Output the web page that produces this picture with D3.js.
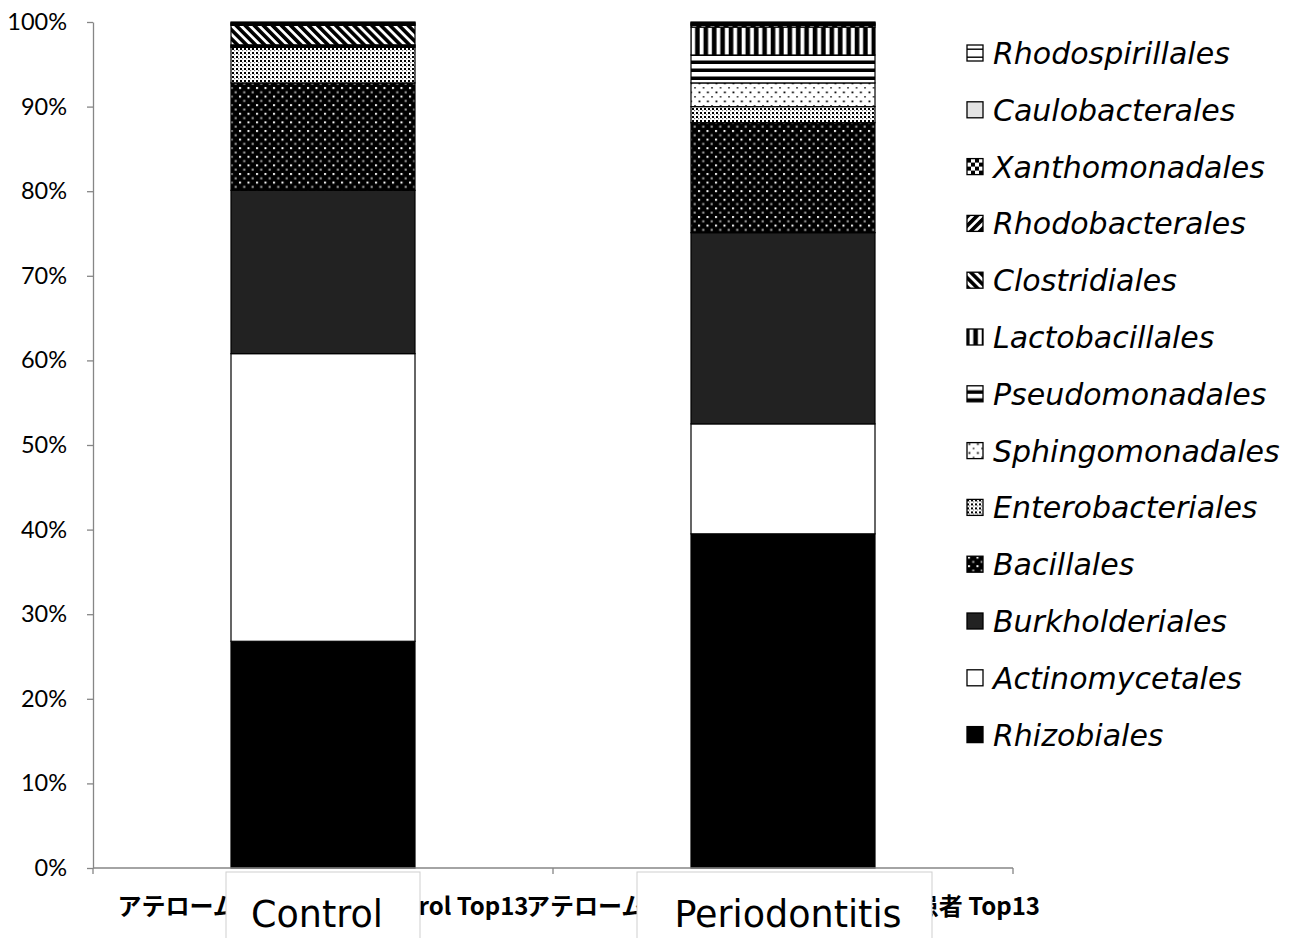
<!DOCTYPE html>
<html>
<head>
<meta charset="utf-8">
<script src="https://cdn.jsdelivr.net/npm/d3@7"></script>
<style>
  html, body { margin: 0; padding: 0; background: #fff; }
  svg { display: block; }
</style>
</head>
<body>
<svg id="chart" width="1290" height="938"></svg>
<script>
// ---- data -------------------------------------------------------------
const groupLabels = [
  "アテローム動脈硬化巣 Control Top13",
  "アテローム動脈硬化巣 歯周炎を伴う患者 Top13"
];
const groupCaptions = ["Control", "Periodontitis"];

// stacking order, bottom to top
const orders = [
  "Rhizobiales", "Actinomycetales", "Burkholderiales", "Bacillales",
  "Enterobacteriales", "Sphingomonadales", "Pseudomonadales", "Lactobacillales",
  "Clostridiales", "Rhodobacterales", "Xanthomonadales", "Caulobacterales",
  "Rhodospirillales"
];

// relative abundance (%) per order
const controlValues       = [26.8, 34.0, 19.3, 12.7, 4.2, 0.1, 0.1, 0.1, 2.3, 0.1, 0.1, 0.1, 0.1];
const periodontitisValues = [39.5, 13.0, 22.6, 13.0, 1.9, 2.8, 3.3, 3.3, 0.2, 0.1, 0.1, 0.1, 0.1];

const yTickValues = [0, 10, 20, 30, 40, 50, 60, 70, 80, 90, 100];

// ---- layout -----------------------------------------------------------
const svg = d3.select("#chart");
const plot = { left: 93, right: 1013, top: 22, bottom: 868 };
const axisColor = "#868686";

const x = d3.scaleBand()
  .domain(groupLabels)
  .range([plot.left, plot.right])
  .paddingInner(0.6)
  .paddingOuter(0.3);

const y = d3.scaleLinear().domain([0, 100]).range([plot.bottom, plot.top]);

// ---- fill patterns (monochrome hatches) --------------------------------
const defs = svg.append("defs");

function pattern(id, w, h, draw, transform) {
  const p = defs.append("pattern")
    .attr("id", id)
    .attr("patternUnits", "userSpaceOnUse")
    .attr("width", w).attr("height", h);
  if (transform) p.attr("patternTransform", transform);
  draw(p);
}
const rect = (p, x0, y0, w, h, fill) =>
  p.append("rect").attr("x", x0).attr("y", y0).attr("width", w).attr("height", h).attr("fill", fill);

// dark with staggered light dots
pattern("p-bacillales", 8.5, 8.6, p => {
  rect(p, 0, 0, 8.5, 8.6, "#000");
  rect(p, 1, 1, 2, 2, "#fff");
  rect(p, 5.25, 5.3, 2, 2, "#b0b0b0");
});
// dense dot grid
pattern("p-entero", 4, 4, p => {
  rect(p, 0, 0, 4, 4, "#fff");
  rect(p, 0, 0, 2, 2, "#000");
  rect(p, 2, 2, 1.2, 1.2, "#777");
});
// sparse dots
pattern("p-sphingo", 8.5, 9, p => {
  rect(p, 0, 0, 8.5, 9, "#fff");
  rect(p, 1.5, 1.5, 1.8, 1.8, "#000");
  rect(p, 5.75, 6, 1.6, 1.6, "#333");
});
// horizontal bands
pattern("p-pseudo", 8, 8, p => {
  rect(p, 0, 0, 8, 8, "#fff");
  rect(p, 0, 4.5, 8, 3.5, "#000");
});
// vertical bands
pattern("p-lacto", 8.4, 8, p => {
  rect(p, 0, 0, 8.4, 8, "#000");
  rect(p, 2.5, 0, 3.8, 8, "#fff");
});
// diagonal "\" stripes
pattern("p-clostri", 6.4, 6.4, p => {
  rect(p, 0, 0, 6.4, 6.4, "#fff");
  rect(p, 0, 0, 3.6, 6.4, "#000");
}, "rotate(-45)");
// diagonal "/" stripes
pattern("p-rhodobac", 6.4, 6.4, p => {
  rect(p, 0, 0, 6.4, 6.4, "#fff");
  rect(p, 0, 0, 3.6, 6.4, "#000");
}, "rotate(45)");
// checkerboard
pattern("p-xantho", 8, 8, p => {
  rect(p, 0, 0, 8, 8, "#fff");
  rect(p, 0, 0, 4, 4, "#000");
  rect(p, 4, 4, 4, 4, "#000");
});
// white with one rule
pattern("p-rhodospir", 8, 8, p => {
  rect(p, 0, 0, 8, 8, "#fff");
  rect(p, 0, 3.5, 8, 1.4, "#000");
});

const fills = {
  Rhizobiales: "#000",
  Actinomycetales: "#fff",
  Burkholderiales: "#222",
  Bacillales: "url(#p-bacillales)",
  Enterobacteriales: "url(#p-entero)",
  Sphingomonadales: "url(#p-sphingo)",
  Pseudomonadales: "url(#p-pseudo)",
  Lactobacillales: "url(#p-lacto)",
  Clostridiales: "url(#p-clostri)",
  Rhodobacterales: "url(#p-rhodobac)",
  Xanthomonadales: "url(#p-xantho)",
  Caulobacterales: "#e4e4e4",
  Rhodospirillales: "url(#p-rhodospir)"
};

// ---- stacked data -------------------------------------------------------
const rows = groupLabels.map((g, i) => {
  const vals = i === 0 ? controlValues : periodontitisValues;
  const r = { group: g };
  orders.forEach((o, k) => { r[o] = vals[k]; });
  return r;
});
const series = d3.stack().keys(orders)(rows);

// ---- y axis ---------------------------------------------------------------
const yAxis = svg.append("g")
  .attr("transform", `translate(${plot.left},0)`)
  .call(d3.axisLeft(y)
    .tickValues(yTickValues)
    .tickFormat(d => d + "%")
    .tickSize(6)
    .tickSizeOuter(0)
    .tickPadding(20));
yAxis.select(".domain").attr("stroke", axisColor).attr("stroke-width", 1.3);
yAxis.selectAll(".tick line").attr("stroke", axisColor).attr("stroke-width", 1.3);
yAxis.selectAll(".tick text")
  .attr("fill", "#000")
  .style("font-family", "Lato, 'Open Sans', sans-serif")
  .style("font-size", "23.5px");

// ---- bars -----------------------------------------------------------------
svg.append("g")
  .selectAll("g")
  .data(series)
  .join("g")
  .attr("fill", d => fills[d.key])
  .selectAll("rect")
  .data(d => d)
  .join("rect")
  .attr("x", d => x(d.data.group))
  .attr("width", x.bandwidth())
  .attr("y", d => y(d[1]))
  .attr("height", d => y(d[0]) - y(d[1]))
  .attr("stroke", "#000")
  .attr("stroke-width", 1.2);

// ---- x axis ---------------------------------------------------------------
const xAxis = svg.append("g");
xAxis.append("line")
  .attr("x1", plot.left).attr("x2", plot.right)
  .attr("y1", plot.bottom).attr("y2", plot.bottom)
  .attr("stroke", axisColor).attr("stroke-width", 1.3);
const boundaries = [plot.left].concat(groupLabels.map(g => x(g) + x.bandwidth() + x.step() * x.paddingInner() / 2));
boundaries[boundaries.length - 1] = plot.right;
xAxis.selectAll("line.tick")
  .data(boundaries)
  .join("line")
  .attr("class", "tick")
  .attr("x1", d => d).attr("x2", d => d)
  .attr("y1", plot.bottom).attr("y2", plot.bottom + 6)
  .attr("stroke", axisColor).attr("stroke-width", 1.3);
xAxis.selectAll("text")
  .data(groupLabels)
  .join("text")
  .attr("x", d => x(d) + x.bandwidth() / 2)
  .attr("y", 915)
  .attr("text-anchor", "middle")
  .attr("fill", "#000")
  .style("font-family", "'Noto Sans CJK JP', sans-serif")
  .style("font-weight", "700")
  .style("font-size", "24px")
  .text(d => d);

// caption boxes laid over the category labels
const captionBoxes = [
  { x0: 226, x1: 420, shift: -6 },
  { x0: 637, x1: 932, shift: 5 }
];
const caps = svg.append("g")
  .selectAll("g")
  .data(groupCaptions)
  .join("g");
caps.append("rect")
  .attr("x", (d, i) => captionBoxes[i].x0)
  .attr("y", 872)
  .attr("width", (d, i) => captionBoxes[i].x1 - captionBoxes[i].x0)
  .attr("height", 80)
  .attr("fill", "#fff")
  .attr("stroke", "#cfcfcf")
  .attr("stroke-width", 1);
caps.append("text")
  .attr("x", (d, i) => x(groupLabels[i]) + x.bandwidth() / 2 + captionBoxes[i].shift)
  .attr("y", 927)
  .attr("text-anchor", "middle")
  .attr("fill", "#000")
  .style("font-family", "'DejaVu Sans', sans-serif")
  .style("font-size", "36.5px")
  .text(d => d);

// ---- legend (top entry = top of stack) -------------------------------------
const legendOrder = orders.slice().reverse();
const legend = svg.append("g");
const item = legend.selectAll("g")
  .data(legendOrder)
  .join("g")
  .attr("transform", (d, i) => `translate(967, ${53 + i * 56.8})`);
item.append("rect")
  .attr("x", 0).attr("y", -8)
  .attr("width", 16).attr("height", 16)
  .attr("fill", d => fills[d])
  .attr("stroke", "#000")
  .attr("stroke-width", 1.3);
item.append("text")
  .attr("x", 26)
  .attr("y", 11)
  .attr("fill", "#000")
  .style("font-family", "'DejaVu Sans', sans-serif")
  .style("font-style", "italic")
  .style("font-size", "30px")
  .text(d => d);
</script>
</body>
</html>
